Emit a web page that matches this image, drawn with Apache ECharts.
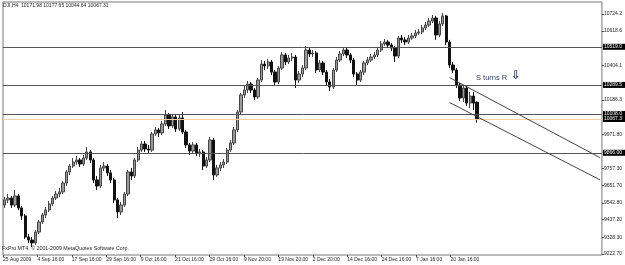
<!DOCTYPE html>
<html><head><meta charset="utf-8">
<script src="https://cdn.jsdelivr.net/npm/echarts@6/dist/echarts.min.js"></script>
<style>html,body{margin:0;padding:0;background:#fff}#c{width:625px;height:265px}</style>
</head><body><div id="c"></div>
<script>
const openP = [9529,9561,9573,9529,9586,9511,9461,9329,9310,9292,
9360,9423,9467,9498,9536,9573,9598,9611,9667,9736,
9773,9798,9811,9786,9823,9861,9811,9686,9648,9761,
9773,9730,9686,9561,9486,9529,9598,9736,9711,9811,
9873,9911,9880,9873,9974,9999,9980,10036,10092,10024,
10080,10005,10074,9986,9905,9867,9905,9855,9861,9773,
9811,9936,9717,9761,9780,9798,9873,9917,9999,10111,
10218,10249,10286,10249,10205,10311,10411,10399,10424,10361,
10299,10386,10468,10424,10449,10455,10311,10349,10386,10499,
10474,10480,10374,10418,10361,10299,10268,10374,10436,10474,
10499,10468,10436,10349,10311,10361,10418,10436,10455,10468,
10499,10537,10549,10530,10512,10461,10574,10562,10549,10574,
10587,10605,10612,10637,10655,10680,10699,10593,10662,10712,
10549,10405,10374,10280,10199,10261,10167,10211,10171.98];
const closeP = [9561,9573,9529,9586,9511,9461,9329,9310,9292,9360,
9423,9467,9498,9536,9573,9598,9611,9667,9736,9773,
9798,9811,9786,9823,9861,9811,9686,9648,9761,9773,
9730,9686,9561,9486,9529,9598,9736,9711,9811,9873,
9911,9880,9873,9974,9999,9980,10036,10092,10024,10080,
10005,10074,9986,9905,9867,9905,9855,9861,9773,9811,
9936,9717,9761,9780,9798,9873,9917,9999,10111,10218,
10249,10286,10249,10205,10311,10411,10399,10424,10361,10299,
10386,10468,10424,10449,10455,10311,10349,10386,10499,10474,
10480,10374,10418,10361,10299,10268,10374,10436,10474,10499,
10468,10436,10349,10311,10361,10418,10436,10455,10468,10499,
10537,10549,10530,10512,10461,10574,10562,10549,10574,10587,
10605,10612,10637,10655,10680,10699,10593,10662,10712,10549,
10405,10374,10280,10199,10261,10167,10211,10167,10067.31];
const lowP = [9511,9542,9511,9517,9498,9436,9317,9292,9267,9279,
9348,9411,9448,9486,9523,9561,9579,9598,9648,9717,
9761,9780,9767,9773,9811,9792,9667,9623,9636,9742,
9711,9667,9542,9448,9467,9517,9586,9686,9698,9798,
9861,9861,9848,9861,9961,9955,9967,10024,10005,10011,
9986,9992,9974,9886,9842,9855,9836,9830,9748,9761,
9798,9686,9705,9742,9761,9786,9861,9905,9986,10099,
10199,10230,10230,10186,10192,10299,10374,10380,10343,10274,
10286,10374,10405,10411,10430,10261,10293,10330,10374,10455,
10455,10355,10361,10343,10280,10243,10255,10361,10424,10461,
10449,10418,10330,10274,10299,10343,10405,10424,10443,10455,
10486,10524,10512,10493,10424,10449,10543,10530,10537,10562,
10574,10593,10599,10624,10643,10668,10562,10580,10649,10530,
10386,10355,10261,10180,10174,10149,10136,10124,10044.64];
const highP = [9579,9598,9586,9623,9598,9523,9473,9348,9329,9373,
9436,9479,9517,9554,9586,9617,9636,9680,9748,9786,
9823,9836,9823,9842,9892,9873,9823,9711,9780,9798,
9786,9748,9698,9573,9548,9611,9748,9761,9823,9892,
9930,9930,9905,9986,10017,10011,10055,10124,10105,10099,
10092,10092,10111,9999,9917,9923,9917,9880,9873,9830,
9955,9949,9780,9798,9817,9886,9936,10017,10124,10230,
10274,10305,10299,10261,10324,10436,10430,10443,10436,10374,
10399,10486,10480,10468,10480,10468,10368,10405,10524,10518,
10499,10493,10436,10430,10374,10318,10386,10455,10493,10518,
10512,10480,10449,10361,10374,10430,10455,10474,10486,10518,
10555,10568,10562,10543,10524,10587,10593,10580,10593,10605,
10624,10630,10655,10674,10699,10718,10712,10680,10731,10718,
10562,10424,10386,10293,10280,10274,10236,10236,10177.65];

const xTickLabels = ["25 Aug 2009","4 Sep 16:00","17 Sep 16:00","29 Sep 16:00","9 Oct 16:00","21 Oct 16:00","29 Oct 16:00","9 Nov 20:00","19 Nov 20:00","2 Dec 20:00","14 Dec 16:00","24 Dec 16:00","7 Jan 16:00","20 Jan 16:00"];
const barsPerXLabel = 10;
const totalSlots = 175;

const yTickValues = [10724.2,10618.6,10404.1,10186.3,9971.8,9757.3,9651.7,9542.8,9437.2,9328.3,9222.7];
const yTickLabels = ["10724.2","10618.6","10404.1","10186.3","9971.80","9757.30","9651.70","9542.80","9437.20","9328.30","9222.70"];
const yMin = 9216.5, yMax = 10799.3;

const levelValues = [10519.0, 10280.5, 10099.0, 9856.0];
const levelLabels = ["10519.0","10289.5","10108.0","9866.00"];
const lastPrice = 10067.31;
const lastPriceLabel = "10067.3";

const channelUpper = [[130, 10326], [174, 9825]];
const channelLower = [[130, 10170], [174, 9686]];

const headerText = "DJI,H4  10171.98 10177.65 10044.64 10067.31";
const copyrightText = "FxPro MT4, \u00a9 2001-2009 MetaQuotes Software Corp.";
const noteText = "S turns R";
const arrowText = "\u21e9";

const FONT = "'Liberation Sans', Arial, sans-serif";
const cats = Array.from({length: totalSlots}, (_, i) => String(i));
const candles = openP.map((o, i) => [o, closeP[i], lowP[i], highP[i]]);
const isLabelIdx = (i) => i % barsPerXLabel === 0 && (i / barsPerXLabel) < xTickLabels.length;

const boxLabel = {
  show: true, position: 'end', distance: 1, backgroundColor: '#000', color: '#fff',
  fontSize: 5, fontFamily: FONT, padding: [1, 3, 0, 1]
};

const chart = echarts.init(document.getElementById('c'), null, {renderer: 'canvas'});
chart.setOption({
  animation: false,
  backgroundColor: '#fff',
  textStyle: {fontFamily: FONT},
  grid: {left: 2, right: 21, top: 2, bottom: 10, show: true, borderColor: '#777', borderWidth: 1, backgroundColor: '#fff'},
  xAxis: [
    {type: 'category', data: cats, boundaryGap: true, axisLine: {show: false}, axisTick: {show: false}, axisLabel: {show: false}, splitLine: {show: false}},
    {type: 'category', data: cats, boundaryGap: false, position: 'bottom', axisLine: {show: false},
     axisTick: {show: true, interval: (i) => isLabelIdx(i), length: 2, lineStyle: {color: '#444'}},
     axisLabel: {show: true, interval: (i) => isLabelIdx(i), formatter: (v) => xTickLabels[Number(v) / barsPerXLabel] || '',
       align: 'left', fontSize: 5, margin: 2, color: '#222', fontFamily: FONT},
     splitLine: {show: false}}
  ],
  yAxis: {
    type: 'value', position: 'right', min: yMin, max: yMax, scale: true,
    axisLine: {show: false}, splitLine: {show: false},
    axisTick: {show: true, customValues: yTickValues, length: 2, lineStyle: {color: '#444'}},
    axisLabel: {show: true, customValues: yTickValues, margin: 2, fontSize: 5, color: '#222', fontFamily: FONT,
      formatter: (v) => { const k = yTickValues.findIndex(t => Math.abs(t - v) < 1e-6); return k >= 0 ? yTickLabels[k] : ''; }}
  },
  graphic: [
    {type: 'text', left: 3, top: 3, style: {text: headerText, font: '5px ' + FONT, fill: '#222'}},
    {type: 'text', left: 2, top: 246, style: {text: copyrightText, font: '5.3px ' + FONT, fill: '#222'}},
    {type: 'text', left: 476, top: 74, style: {text: noteText, font: '7.5px ' + FONT, fill: '#2f3f66'}},
    {type: 'text', left: 511, top: 70, style: {text: arrowText, font: 'bold 12px DejaVu Sans', fill: '#2f3f66'}}
  ],
  series: [{
    type: 'candlestick', xAxisIndex: 0, data: candles, barWidth: 2.8,
    itemStyle: {color: '#9a9a9a', color0: '#111', borderColor: '#444', borderColor0: '#111', borderWidth: 1},
    markLine: {
      silent: true, symbol: 'none', animation: false,
      lineStyle: {color: '#555', width: 1, type: 'solid'},
      label: {show: false},
      data: [
        ...levelValues.map((v, i) => ({yAxis: v, label: Object.assign({}, boxLabel, {formatter: levelLabels[i]})})),
        {yAxis: lastPrice, lineStyle: {color: '#f2cda6', width: 1, type: 'solid'}, label: Object.assign({}, boxLabel, {formatter: lastPriceLabel})},
        [{coord: channelUpper[0]}, {coord: channelUpper[1], lineStyle: {color: '#444', width: 1}}],
        [{coord: channelLower[0]}, {coord: channelLower[1], lineStyle: {color: '#444', width: 1}}]
      ]
    }
  }]
});
</script></body></html>
